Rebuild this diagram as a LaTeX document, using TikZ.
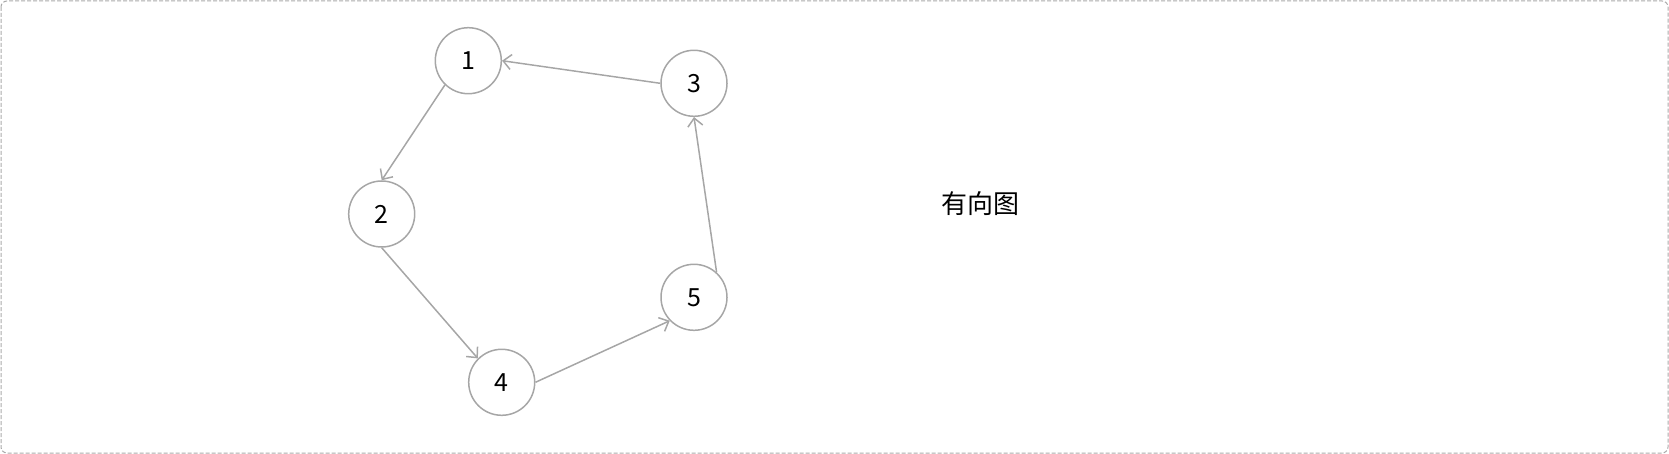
\documentclass[tikz,border=0pt]{standalone}
\usepackage{fontspec}
\setmainfont{Noto Sans CJK SC}
\usetikzlibrary{arrows.meta}
\definecolor{edgegray}{HTML}{A6A6A6}
\definecolor{framegray}{HTML}{AAAAAA}
\tikzset{
  vertex/.style={circle, draw=edgegray, line width=1.5pt, minimum size=66pt, inner sep=0pt, font=\fontsize{25}{30}\selectfont},
  link/.style={draw=edgegray, line width=1.5pt, -{Straight Barb[length=8pt,width=15pt,line width=1.5pt]}},
  frame/.style={draw=framegray, line width=1pt, dash pattern=on 4pt off 2pt, rounded corners=6pt}
}
\begin{document}
\begin{tikzpicture}[x=1pt,y=-1pt]
\useasboundingbox (0,0) rectangle (1669,454);
\draw[frame] (1,1) rectangle (1668,453);
\node[vertex] (n1) at (468.3,60.7) {1};
\node[vertex] (n2) at (381.7,214) {2};
\node[vertex] (n3) at (694,83.3) {3};
\node[vertex] (n4) at (501.7,382.3) {4};
\node[vertex] (n5) at (694,297.3) {5};
\node[font=\fontsize{26}{30}\selectfont] (title) at (980.8,203.3) {有向图};
\draw[link] (n1.226) -- (n2.north);
\draw[link] (n2.south) -- (n4.135);
\draw[link] (n4.east) -- (n5.224);
\draw[link] (n5.48) -- (n3.south);
\draw[link] (n3.west) -- (n1.east);
\end{tikzpicture}
\end{document}
